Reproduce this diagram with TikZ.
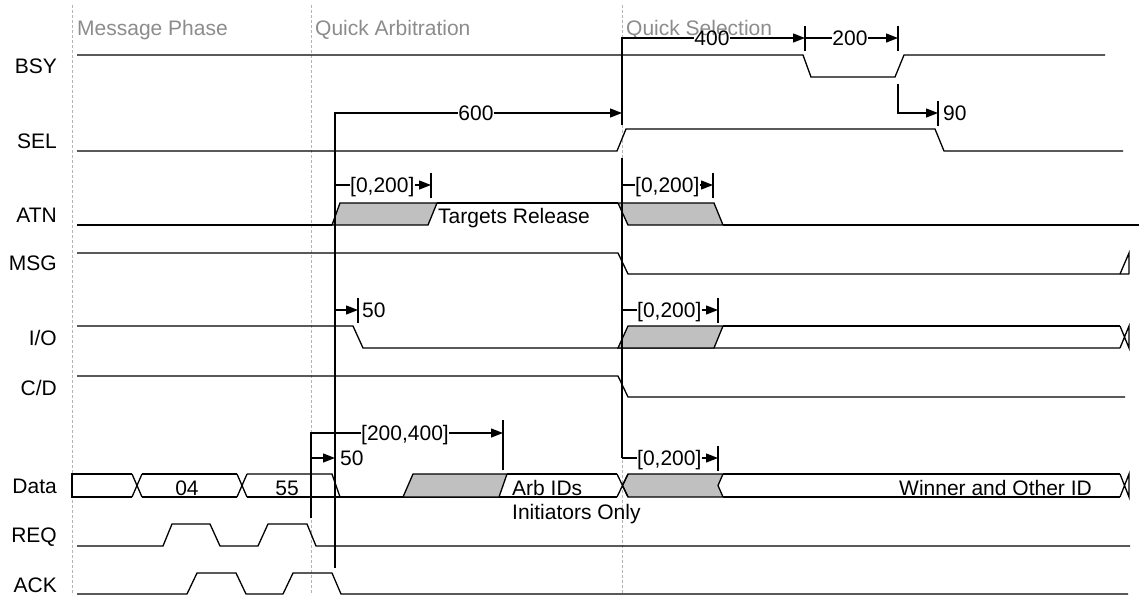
\documentclass[tikz,border=0pt]{standalone}
\usepackage{fontspec}
\setmainfont{Liberation Sans}
\usetikzlibrary{arrows.meta}
\definecolor{wavegray}{HTML}{C0C0C0}
\definecolor{gridgray}{HTML}{B4B4B4}
\definecolor{phasegray}{HTML}{8C8C8C}
\begin{document}
\begin{tikzpicture}[x=1pt,y=-1pt,
  every node/.style={font=\fontsize{21}{25}\selectfont},
  wave/.style={line width=1.3pt, line join=miter},
  winfill/.style={wave, fill=wavegray},
  gridline/.style={gridgray, line width=0.9pt, dash pattern=on 3pt off 2pt},
  phase/.style={anchor=base west, text=phasegray, inner sep=0pt},
  siglabel/.style={anchor=base east, inner sep=0pt},
  txt/.style={inner sep=0pt},
  lab/.style={inner sep=0pt, text height=15pt, text depth=0pt},
  meas/.style={line width=1.3pt},
  marrow/.style={meas, -{Triangle[length=12pt 0 0,width=9pt 0 0]}},
  refline/.style={line width=1.6pt},
]
\useasboundingbox[fill=white] (0,0) rectangle (1143,595);

% phase separators
\draw[gridline] (72,5) -- (72,595);
\draw[gridline] (311,5) -- (311,595);
\draw[gridline] (622,5) -- (622,595);

% phase labels
\node[phase] (phMsg) at (77,35) {Message Phase};
\node[phase] (phArb) at (315,35) {Quick Arbitration};
\node[phase] (phSel) at (626,35) {Quick Selection};

% signal labels
\node[siglabel] (lBSY) at (57,73) {BSY};
\node[siglabel] (lSEL) at (57,148) {SEL};
\node[siglabel] (lATN) at (57,222) {ATN};
\node[siglabel] (lMSG) at (57,270) {MSG};
\node[siglabel] (lIO)  at (57,345) {I/O};
\node[siglabel] (lCD)  at (57,395) {C/D};
\node[siglabel] (lDAT) at (57,493) {Data};
\node[siglabel] (lREQ) at (57,542) {REQ};
\node[siglabel] (lACK) at (57,592) {ACK};

% BSY
\draw[wave] (77,55) -- (803,55) -- (811,77) -- (895,77) -- (904,55) -- (1105,55);
% SEL
\draw[wave] (77,151) -- (617,151) -- (626,129) -- (935,129) -- (944,151) -- (1123,151);
% ATN
\draw[wave] (77,225) -- (332,225);
\draw[winfill] (332,225) -- (340,203) -- (437,203) -- (428,225) -- cycle;
\draw[wave] (437,203) -- (618,203);
\draw[winfill] (618,203) -- (714,203) -- (723,225) -- (628,225) -- cycle;
\draw[wave] (723,225) -- (1139,225);
\node[txt, anchor=base west] (tRel) at (438,223) {Targets Release};
% MSG
\draw[wave] (77,253) -- (618,253) -- (628,274) -- (1129,274);
\draw[wave] (1120,274) -- (1129,253) -- (1129,274);
% I/O
\draw[wave] (77,326) -- (353,326) -- (363,348) -- (1120,348);
\draw[winfill] (618,348) -- (628,326) -- (723,326) -- (714,348) -- cycle;
\draw[wave] (723,326) -- (1120,326);
\draw[wave] (1120,326) -- (1129,348) -- (1129,326) -- (1120,348);
% C/D
\draw[wave] (77,376) -- (618,376) -- (628,397) -- (1125,397);
% Data
\draw[wave] (132,474) -- (72,474) -- (72,497) -- (132,497);
\draw[wave] (132,474) -- (142,497) (132,497) -- (142,474);
\draw[wave] (142,474) -- (237,474) (142,497) -- (237,497);
\draw[wave] (237,474) -- (247,497) (237,497) -- (247,474);
\draw[wave] (247,474) -- (332,474) -- (340,497);
\draw[wave] (247,497) -- (617,497);
\draw[winfill] (403,497) -- (413,474) -- (507,474) -- (499,497) -- cycle;
\draw[wave] (507,474) -- (617,474);
\draw[winfill] (622.5,485.5) -- (628,474) -- (723,474) -- (718,485.5) -- (723,497) -- (628,497) -- cycle;
\draw[wave] (617,474) -- (628,497) (617,497) -- (628,474);
\draw[wave] (723,474) -- (1120,474) (723,497) -- (1120,497);
\draw[wave] (1120,474) -- (1129,497) -- (1129,474) -- (1120,497);
\node[txt, anchor=base] (d04) at (187,495) {04};
\node[txt, anchor=base] (d55) at (287,495) {55};
\node[txt, anchor=base west] (dArb) at (512,495) {Arb IDs};
\node[txt, anchor=base west] (dIni) at (512,519) {Initiators Only};
\node[txt, anchor=base east] (dWin) at (1092,495) {Winner and Other ID};
% REQ
\draw[wave] (77,546) -- (163,546) -- (172,524) -- (210,524) -- (220,546) -- (258,546) -- (268,524) -- (307,524) -- (316,546) -- (1130,546);
% ACK
\draw[wave] (77,594) -- (187,594) -- (197,573) -- (236,573) -- (246,594) -- (283,594) -- (293,573) -- (332,573) -- (341,594) -- (1128,594);

% ---- timing annotations ----
% 600
\node[lab] (m600) at (476,113) {600};
\draw[refline] (335,568) -- (335,113) -- (m600.west);
\draw[marrow] (m600.east) -- (622,113);
\draw[meas] (622,100) -- (622,125);
% 400 / 200
\node[lab] (m400) at (712,38) {400};
\draw[meas] (622,100) -- (622,38) -- (m400.west);
\draw[marrow] (m400.east) -- (805,38);
\draw[meas] (805,26) -- (805,51);
\node[lab] (m200) at (850,38) {200};
\draw[meas] (805,38) -- (m200.west);
\draw[marrow] (m200.east) -- (898,38);
\draw[meas] (898,26) -- (898,51);
% 90
\node[lab, anchor=west] (m90) at (943,113) {90};
\draw[marrow] (898,84) -- (898,113) -- (938,113);
\draw[meas] (938,100.5) -- (938,125.5);
% reference line at selection
\draw[refline] (622,158) -- (622,458);
% ATN windows
\node[lab, anchor=west] (mA1) at (350,185) {[0,200]};
\draw[meas] (335,185) -- (mA1.west);
\draw[marrow] (mA1.east) -- (431,185);
\draw[meas] (431,172.5) -- (431,197.5);
\node[lab, anchor=west] (mA2) at (635,185) {[0,200]};
\draw[meas] (622,185) -- (mA2.west);
\draw[marrow] (mA2.east) -- (713,185);
\draw[meas] (713,172.5) -- (713,197.5);
% I/O
\node[lab, anchor=west] (m50a) at (362,310) {50};
\draw[marrow] (335,310) -- (358,310);
\draw[meas] (358,297.5) -- (358,322.5);
\node[lab, anchor=west] (mI) at (637,310) {[0,200]};
\draw[meas] (622,310) -- (mI.west);
\draw[marrow] (mI.east) -- (718,310);
\draw[meas] (718,297.5) -- (718,322.5);
% Data
\node[lab, anchor=west] (mD1) at (361,433) {[200,400]};
\draw[refline] (311,518) -- (311,433) -- (mD1.west);
\draw[marrow] (mD1.east) -- (503,433);
\draw[meas] (503,420) -- (503,470);
\node[lab, anchor=west] (m50b) at (340,458) {50};
\draw[marrow] (311,458) -- (335,458);
\node[lab, anchor=west] (mD2) at (637,458) {[0,200]};
\draw[meas] (622,458) -- (mD2.west);
\draw[marrow] (mD2.east) -- (718,458);
\draw[meas] (718,445.5) -- (718,470.5);
\end{tikzpicture}
\end{document}
